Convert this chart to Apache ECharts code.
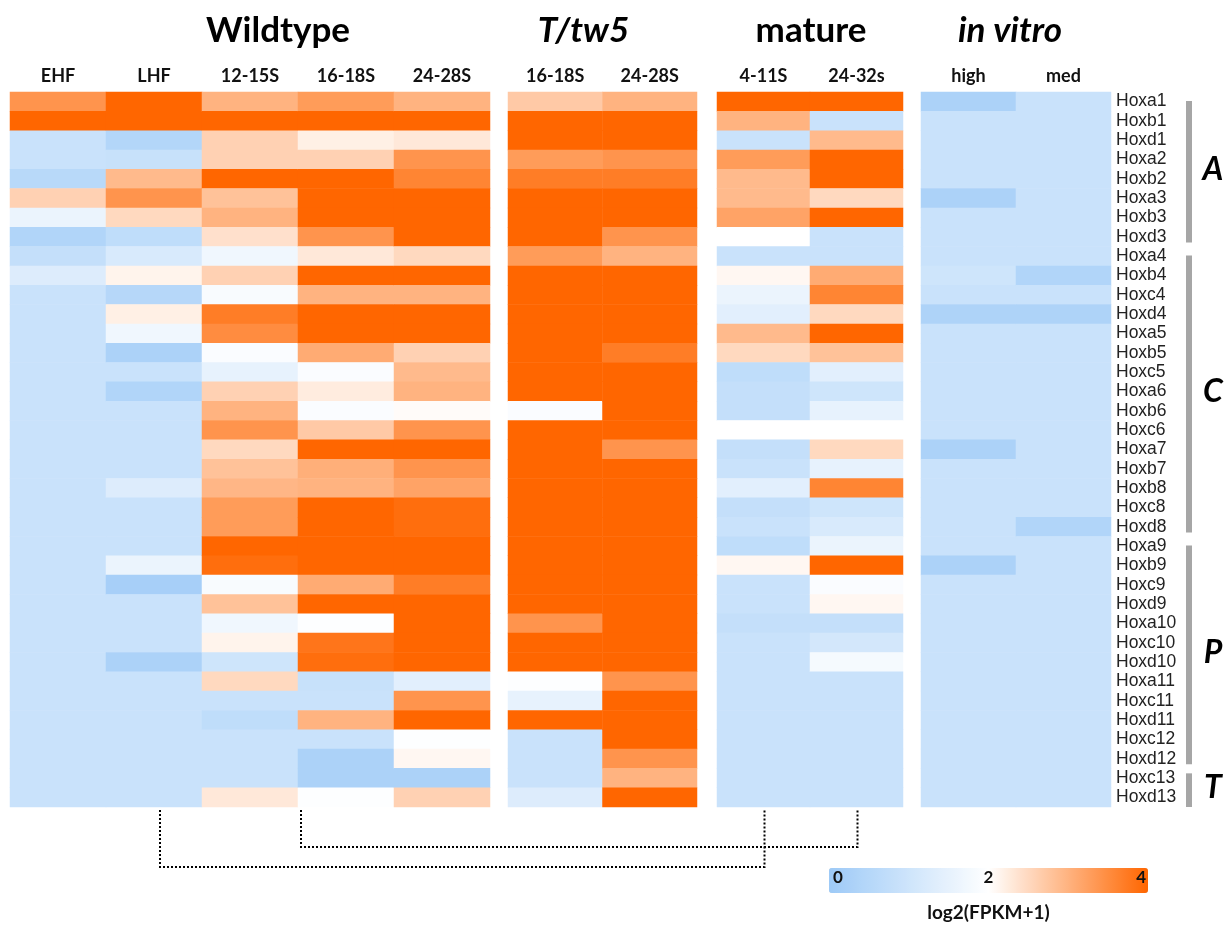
<!DOCTYPE html>
<html><head><meta charset="utf-8">
<script src="https://cdn.jsdelivr.net/npm/echarts@6/dist/echarts.min.js"></script>
<style>html,body{margin:0;padding:0;background:#fff}#c{width:1231px;height:926px}</style>
</head><body><div id="c"></div>
<script>
// ---------- DATA ----------
const genes = ['Hoxa1','Hoxb1','Hoxd1','Hoxa2','Hoxb2','Hoxa3','Hoxb3','Hoxd3','Hoxa4','Hoxb4','Hoxc4','Hoxd4',
  'Hoxa5','Hoxb5','Hoxc5','Hoxa6','Hoxb6','Hoxc6','Hoxa7','Hoxb7','Hoxb8','Hoxc8','Hoxd8','Hoxa9','Hoxb9','Hoxc9',
  'Hoxd9','Hoxa10','Hoxc10','Hoxd10','Hoxa11','Hoxc11','Hoxd11','Hoxc12','Hoxd12','Hoxc13','Hoxd13'];

const groupTitles = ['Wildtype','T/tw5','mature','in vitro'];
const wildtypeCols = ['EHF','LHF','12-15S','16-18S','24-28S'];
const ttw5Cols = ['16-18S','24-28S'];
const matureCols = ['4-11S','24-32s'];
const invitroCols = ['high','med'];

// log2(FPKM+1), one array per column, in gene order
const wtEHF   = [3.4,4,0.9,0.9,0.55,2.6,1.6,0.4,0.8,1.3,0.9,0.9,0.9,0.9,0.9,0.9,0.9,0.9,0.9,0.9,0.9,0.9,0.9,0.9,0.9,0.9,0.9,0.9,0.9,0.9,0.9,0.9,0.9,0.9,0.9,0.9,0.9];
const wtLHF   = [4,4,0.45,0.85,2.9,3.4,2.5,0.7,1.2,2.15,0.5,2.2,1.7,0.3,0.9,0.4,0.9,0.9,0.9,0.9,1.3,0.9,0.9,0.9,1.6,0.2,0.9,0.9,0.9,0.3,0.9,0.9,0.9,0.9,0.9,0.9,0.9];
const wt1215S = [3.0,4,2.6,2.6,4,2.8,3.0,2.4,1.7,2.6,1.85,3.7,3.5,1.9,1.5,2.6,3.0,3.4,2.5,2.8,2.95,3.3,3.3,4,3.9,1.85,2.8,1.7,2.15,1.0,2.5,0.9,0.7,0.9,0.9,0.9,2.3];
const wt1618S = [3.3,4,2.2,2.6,4,4,4,3.4,2.3,4,3.0,4,4,3.1,1.9,2.25,1.9,2.7,4,3.05,3.0,4,4,4,4,3.1,4,1.95,3.8,3.9,0.85,0.9,3.0,0.9,0.3,0.3,1.95];
const wt2428S = [3.0,4,2.3,3.4,3.6,4,4,4,2.5,4,3.0,4,4,2.6,2.9,3.0,2.05,3.4,4,3.4,3.2,3.9,3.9,4,4,3.7,4,4,4,4,1.4,3.4,4,1.95,2.1,0.3,2.6];
const tt1618S = [2.7,4,4,3.3,3.7,4,4,4,3.3,4,4,4,4,4,4,4,1.9,4,4,4,4,4,4,4,4,4,4,3.4,4,4,1.95,1.5,4,0.9,0.9,0.9,1.3];
const tt2428S = [3.0,4,4,3.4,3.7,4,4,3.4,3.0,4,4,4,4,3.7,4,4,4,4,3.4,4,4,4,4,4,4,4,4,4,4,4,3.4,4,4,4,3.4,3.0,4];
const mat411S = [4,3.0,0.9,3.3,2.9,2.9,3.2,2.0,0.9,2.1,1.6,1.4,2.9,2.5,0.7,0.8,0.8,2.0,0.8,0.9,1.4,0.8,0.9,0.7,2.1,0.9,0.9,0.8,0.9,0.9,0.9,0.9,0.9,0.9,0.9,0.9,0.9];
const mat2432s= [4,0.9,2.9,4,4,2.5,4,0.9,0.9,3.1,3.6,2.5,4,2.8,1.4,1.0,1.5,2.0,2.5,1.5,3.6,1.0,1.2,1.6,4,1.9,2.1,0.8,1.1,1.8,0.9,0.9,0.9,0.9,0.9,0.9,0.9];
const ivHigh  = [0.3,0.9,0.9,0.9,0.9,0.3,0.9,0.9,0.9,1.0,0.9,0.35,0.9,0.9,0.9,0.9,0.9,0.9,0.3,0.9,0.9,0.9,0.9,0.9,0.3,0.9,0.9,0.9,0.9,0.9,0.9,0.9,0.9,0.9,0.9,0.9,0.9];
const ivMed   = [0.9,0.9,0.9,0.9,0.9,0.9,0.9,0.9,0.9,0.4,0.9,0.35,0.9,0.9,0.9,0.9,0.9,0.9,0.9,0.9,0.9,0.9,0.4,0.9,0.9,0.9,0.9,0.9,0.9,0.9,0.9,0.9,0.9,0.9,0.9,0.9,0.9];

const scaleTicks = ['0','2','4'];
const scaleTitle = 'log2(FPKM+1)';
const regions = [{name:'A', from:'Hoxa1', to:'Hoxd3'},{name:'C', from:'Hoxa4', to:'Hoxd8'},
                 {name:'P', from:'Hoxa9', to:'Hoxd12'},{name:'T', from:'Hoxc13', to:'Hoxd13'}];

// ---------- BUILD ----------
const groups = [
  {cols: wildtypeCols, vals: [wtEHF, wtLHF, wt1215S, wt1618S, wt2428S], italic:false},
  {cols: ttw5Cols, vals: [tt1618S, tt2428S], italic:true},
  {cols: matureCols, vals: [mat411S, mat2432s], italic:false},
  {cols: invitroCols, vals: [ivHigh, ivMed], italic:true}
];
const layout = [{left:10,width:480,titleDx:28},{left:508,width:189,titleDx:-19},{left:717,width:186,titleDx:1},{left:921,width:190,titleDx:-6}];
const gridTop = 92, gridH = 715;

const chart = echarts.init(document.getElementById('c'));
const grids = [], xAxes = [], yAxes = [], series = [];
groups.forEach((g, i) => {
  grids.push({left: layout[i].left, width: layout[i].width, top: gridTop, height: gridH});
  xAxes.push({type:'category', gridIndex:i, data:g.cols, position:'top',
    axisLine:{show:false}, axisTick:{show:false}, splitLine:{show:false},
    axisLabel:{fontFamily:'Lato', fontWeight:'bold', fontSize:18, color:'#111', margin:7, interval:0}});
  yAxes.push({type:'category', gridIndex:i, data:genes, inverse:true, show: i === 3, position:'right',
    axisLine:{show:false}, axisTick:{show:false}, splitLine:{show:false},
    axisLabel:{fontFamily:'Liberation Sans', fontSize:17.5, color:'#222', margin:5, align:'left', interval:0}});
  const data = [];
  g.vals.forEach((col, c) => col.forEach((v, r) => data.push([c, r, v])));
  series.push({type:'heatmap', xAxisIndex:i, yAxisIndex:i, data, emphasis:{disabled:true},
    itemStyle:{borderWidth:0}, progressive:0});
});

chart.setOption({
  animation:false,
  grid: grids, xAxis: xAxes, yAxis: yAxes, series,
  visualMap: {type:'continuous', min:0, max:4, orient:'horizontal', left:829, top:868,
    itemWidth:25, itemHeight:319, calculable:false, hoverLink:false, padding:0,
    seriesIndex:[0,1,2,3], inRange:{color:['#9dcaf7','#ffffff','#ff6600']}}
});

// ---------- ANNOTATIONS (positions derived from the axes) ----------
const gfx = [];
const rowH = gridH / genes.length;
groups.forEach((g, i) => {
  const cx = layout[i].left + layout[i].width / 2 + layout[i].titleDx;
  gfx.push({type:'text', x: cx, y: 31, style:{text: groupTitles[i], fontFamily:'Lato', fontWeight:'bold',
    fontStyle: g.italic ? 'italic' : 'normal', fontSize:35, fill:'#000', align:'center', verticalAlign:'middle'}});
});
regions.forEach(rg => {
  const y0 = chart.convertToPixel({yAxisIndex:3}, rg.from) - rowH/2;
  const y1 = chart.convertToPixel({yAxisIndex:3}, rg.to) + rowH/2;
  const inset = rg.name === 'T' ? 5 : 9;
  gfx.push({type:'rect', shape:{x:1186, y:y0 + inset, width:6, height:(y1 - y0) - inset - (rg.name==='T'?0:4)},
    style:{fill:'#a6a6a6'}});
  gfx.push({type:'text', x:1213, y:(y0 + y1)/2, style:{text: rg.name, fontFamily:'Lato', fontWeight:'bold',
    fontStyle:'italic', fontSize:32, fill:'#000', align:'center', verticalAlign:'middle'}});
});
// dotted comparison connectors
const xLHF = chart.convertToPixel({xAxisIndex:0}, 'LHF') + 6;
const xMid = (chart.convertToPixel({xAxisIndex:0}, '12-15S') + chart.convertToPixel({xAxisIndex:0}, '16-18S')) / 2 + 3;
const x411 = chart.convertToPixel({xAxisIndex:2}, '4-11S') + 1;
const x2432 = chart.convertToPixel({xAxisIndex:2}, '24-32s') + 1;
const yb = gridTop + gridH + 3;
gfx.push({type:'polyline', shape:{points:[[xLHF,yb],[xLHF,867],[x411,867],[x411,yb]]},
  style:{stroke:'#000', lineWidth:2, lineDash:[2,2], fill:null}});
gfx.push({type:'polyline', shape:{points:[[xMid,yb],[xMid,847],[x2432,847],[x2432,yb]]},
  style:{stroke:'#000', lineWidth:2, lineDash:[2,2], fill:null}});
// colour-scale labels
const barL = 829, barW = 319;
scaleTicks.forEach((t, k) => {
  const align = k === 0 ? 'left' : (k === scaleTicks.length - 1 ? 'right' : 'center');
  const x = k === 0 ? barL + 4 : (k === scaleTicks.length - 1 ? barL + barW - 2 : barL + barW * k / (scaleTicks.length - 1));
  gfx.push({type:'text', x, y:878, style:{text:t, fontFamily:'Lato', fontWeight:'bold', fontSize:17,
    fill:'#111', align, verticalAlign:'middle'}, z:10});
});
gfx.push({type:'text', x: barL + barW/2, y: 913, style:{text: scaleTitle, fontFamily:'Lato', fontWeight:'bold',
  fontSize:19, fill:'#111', align:'center', verticalAlign:'middle'}});

chart.setOption({graphic: gfx});
</script>
</body></html>
